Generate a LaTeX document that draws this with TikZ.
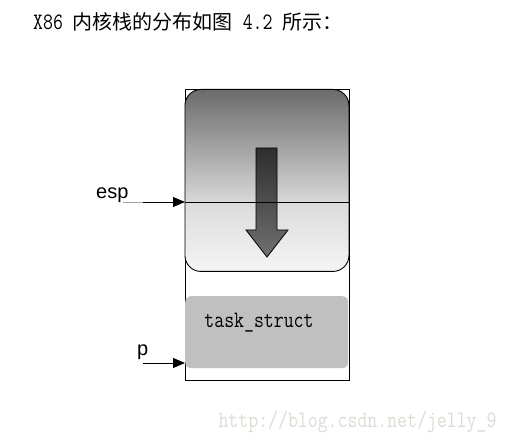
\documentclass[tikz,border=0pt]{standalone}
\usepackage{fontspec}
\newfontfamily\cjk{Noto Sans CJK SC}
\newfontfamily\lsans{Liberation Sans}
\newfontfamily\simmono{Latin Modern Mono}[FakeStretch=0.82]
\usetikzlibrary{arrows.meta}
\definecolor{wm}{HTML}{DEDAD4}
\definecolor{tsgray}{HTML}{C0C0C0}
\pgfdeclareverticalshading{stackshade}{100bp}{%
  color(0bp)=(white!96!black);
  color(25bp)=(white!96!black);
  color(44bp)=(white!86!black);
  color(44.5bp)=(white!84!black);
  color(75bp)=(white!42!black);
  color(100bp)=(white!42!black)}
\pgfdeclareverticalshading{arrowshade}{100bp}{%
  color(0bp)=(white!44!black);
  color(25bp)=(white!44!black);
  color(75bp)=(white!18!black);
  color(100bp)=(white!18!black)}
\tikzset{
  txt/.style={inner sep=0pt, font=\fontsize{20}{24}\selectfont},
  mono/.style={inner sep=0pt, font=\simmono\fontsize{23.5}{27}\selectfont},
  lbl/.style={inner sep=0pt, font=\lsans\fontsize{20}{24}\selectfont},
  ptr/.style={line width=0.9pt, -{Triangle[length=12pt,width=10pt]}},
}
\begin{document}
\begin{tikzpicture}[x=1pt,y=-1pt]
\useasboundingbox (0,0) rectangle (509,443);
% title
\node[txt, anchor=base west] (title) at (33,29.5)
  {{\simmono\fontsize{23.5}{27}\selectfont X86 }{\cjk 内核栈的分布如图}{\simmono\fontsize{23.5}{27}\selectfont\ 4.2 }{\cjk 所示：}};
% outer frame
\node[draw, line width=0.8pt, minimum width=164pt, minimum height=291pt,
      inner sep=0pt, anchor=north west] (outer) at (184.5,89) {};
% stack area
\node[draw, line width=0.9pt, rounded corners=16pt, shading=stackshade,
      minimum width=164pt, minimum height=182pt, inner sep=0pt,
      anchor=north west] (stack) at (184.5,89) {};
% growth arrow
\draw[line width=0.8pt, shading=arrowshade]
  (256,148) -- (277,148) -- (277,230) -- (288,230) -- (267,257)
  -- (246,230) -- (256,230) -- cycle;
% task_struct
\node[fill=tsgray, rounded corners=6pt, minimum width=163pt,
      minimum height=72pt, inner sep=0pt, anchor=north west] (ts) at (185,296) {};
\node[mono, anchor=base] (tslbl) at (259,328) {task\_struct};
% esp
\node[lbl, anchor=base west] (esp) at (96,199) {esp};
\coordinate (espa) at (123,202);
\coordinate (espb) at (143,202);
\coordinate (espin) at (185,202);
\coordinate (espout) at (349,202);
\draw[gray!70, line width=0.9pt] (espa) -- (espb);
\draw[ptr] (espb) -- (espin);
\draw[line width=0.9pt] (espin) -- (espout);
% p
\node[lbl, anchor=base west] (p) at (137,356) {p};
\coordinate (pa) at (143,363);
\coordinate (pin) at (185,363);
\draw[ptr] (pa) -- (pin);
% watermark
\node[mono, text=wm, anchor=base] (wmk) at (357.5,428) {http://blog.csdn.net/jelly\_9};
\end{tikzpicture}
\end{document}
